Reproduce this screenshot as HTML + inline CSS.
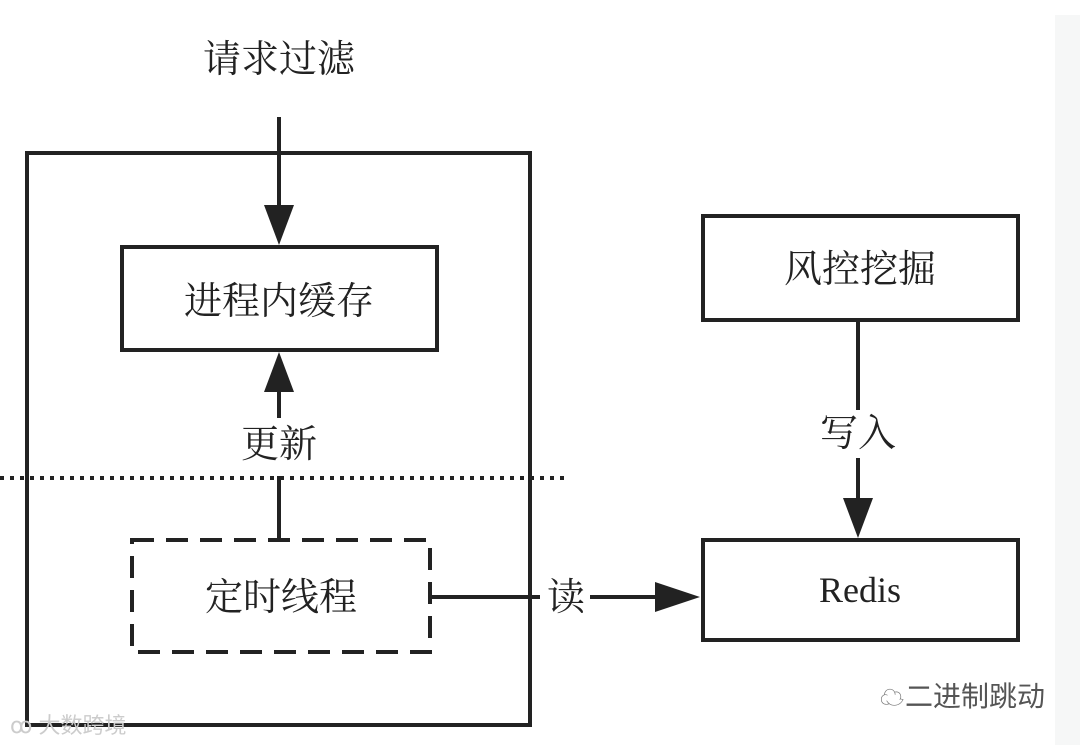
<!DOCTYPE html>
<html><head><meta charset="utf-8"><style>
html,body{margin:0;padding:0;background:#fff;}
body{width:1080px;height:745px;overflow:hidden;position:relative;font-family:"Liberation Serif","Noto Serif CJK SC",serif;color:#222;}
</style></head><body>
<svg width="1080" height="745" viewBox="0 0 1080 745" xmlns="http://www.w3.org/2000/svg" style="position:absolute;left:0;top:0">
<rect x="1055" y="15" width="25" height="730" fill="#f6f7f7"/>
<g stroke="#222" fill="none" stroke-width="4">
<rect x="27" y="153" width="503" height="572"/>
<rect x="122" y="247" width="315" height="103"/>
<rect x="132" y="540" width="298" height="112" stroke-dasharray="22 12"/>
<rect x="703" y="216" width="315" height="104"/>
<rect x="703" y="540" width="315" height="100"/>
<line x1="0" y1="478" x2="568" y2="478" stroke-dasharray="4 6"/>
<line x1="279" y1="117" x2="279" y2="215"/>
<line x1="279" y1="392" x2="279" y2="418"/>
<line x1="279" y1="476" x2="279" y2="540"/>
<line x1="430" y1="597" x2="540" y2="597"/>
<line x1="590" y1="597" x2="660" y2="597"/>
<line x1="858" y1="320" x2="858" y2="410"/>
<line x1="858" y1="458" x2="858" y2="505"/>
</g>
<g fill="#222">
<polygon points="264,205 294,205 279,245"/>
<polygon points="264,392 294,392 279,352"/>
<polygon points="655,582 655,612 700,597"/>
<polygon points="843,498 873,498 858,538"/>
</g>
<g font-size="38" text-anchor="middle" fill="#222">
<text x="279" y="72">请求过滤</text>
<text x="279" y="314">进程内缓存</text>
<text x="279" y="457">更新</text>
<text x="281" y="610">定时线程</text>
<text x="566" y="610">读</text>
<text x="860" y="282">风控挖掘</text>
<text x="858" y="446">写入</text>
<text x="860" y="602" font-size="36">Redis</text>
</g>
<text x="975" y="706" font-size="28" text-anchor="middle" fill="#555" font-family="Liberation Sans,Noto Sans CJK SC,sans-serif">二进制跳动</text>
<text x="880" y="706" font-size="24" fill="#777">☁</text>
<text x="10" y="733" font-size="22" fill="#ccc" font-family="Liberation Sans,Noto Sans CJK SC,sans-serif">ꝏ 大数跨境</text>
</svg>
</body></html>
